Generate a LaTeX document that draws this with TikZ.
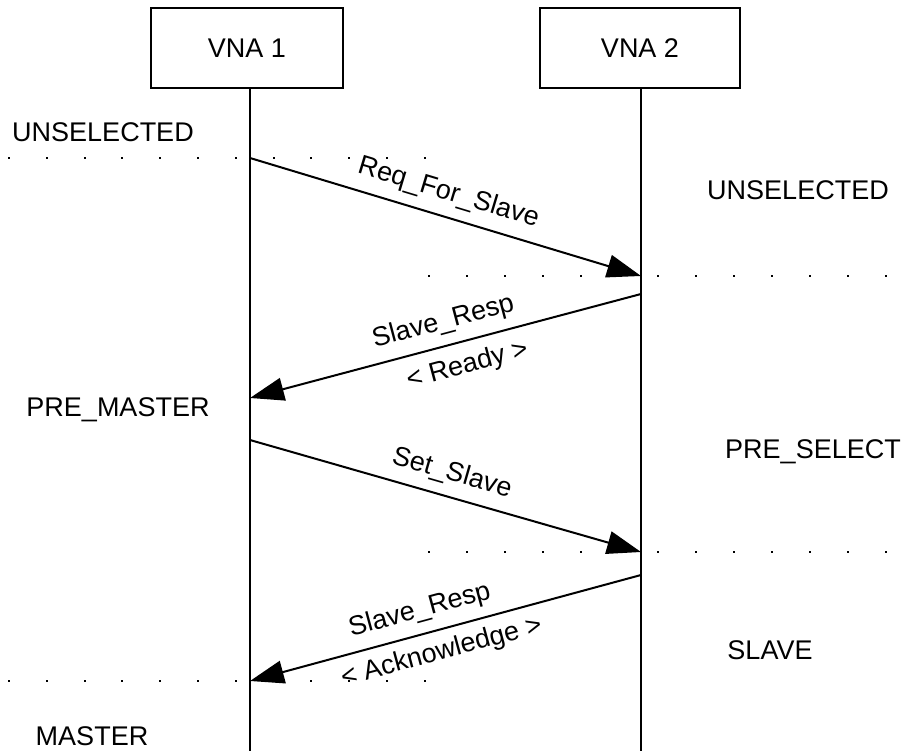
\documentclass[tikz,border=0pt]{standalone}
\usepackage{fontspec}
\setmainfont{Liberation Sans}
\usetikzlibrary{arrows.meta}
\begin{document}
\begin{tikzpicture}[x=1pt,y=-1pt, font=\fontsize{27}{32}\selectfont,
  lifeline/.style={line width=2pt},
  msg/.style={line width=2pt,-{Triangle[length=34pt,width=23pt]}},
  agent/.style={draw,line width=2pt,minimum height=80pt,inner sep=0pt},
  state/.style={inner sep=0pt},
  lbl/.style={sloped,inner sep=2pt},
  dot/.style={fill=black}]
\useasboundingbox (0,0) rectangle (907,751);
% agents
\node[agent,minimum width=192pt] (vna1) at (247,48.5) {VNA 1};
\node[agent,minimum width=200pt] (vna2) at (640,48.5) {VNA 2};
\coordinate (l1b) at (250,751);
\coordinate (l2b) at (641,751);
\draw[lifeline] (vna1.south -| l1b) -- (l1b);
\draw[lifeline] (vna2.south -| l2b) -- (l2b);
% dotted state separators
\foreach \i in {0,...,11} \fill[dot] ({8+\i*37.8},157) rectangle +(2,2);
\foreach \i in {0,...,12} \fill[dot] ({428+\i*38.1},275) rectangle +(2,2);
\foreach \i in {0,...,12} \fill[dot] ({428+\i*38.1},551) rectangle +(2,2);
\foreach \i in {0,...,11} \fill[dot] ({8+\i*37.8},680) rectangle +(2,2);
% message end points
\coordinate (m1s) at (250,158);
\coordinate (m1e) at (641,276);
\coordinate (m2s) at (641,294);
\coordinate (m2e) at (250,398);
\coordinate (m3s) at (250,440);
\coordinate (m3e) at (641,552);
\coordinate (m4s) at (641,575);
\coordinate (m4e) at (250,681);
% messages
\draw[msg] (m1s) -- node[lbl,above=8pt,pos=0.49]{Req\_For\_Slave} (m1e);
\draw[msg] (m2s) -- node[lbl,above=8pt,pos=0.49]{Slave\_Resp}
                    node[lbl,below=9pt,pos=0.46]{< Ready >} (m2e);
\draw[msg] (m3s) -- node[lbl,above=8pt,pos=0.5]{Set\_Slave} (m3e);
\draw[msg] (m4s) -- node[lbl,above=8pt,pos=0.55]{Slave\_Resp}
                    node[lbl,below=7pt,pos=0.525]{< Acknowledge >} (m4e);
% states
\node[state] (s1) at (103,132) {UNSELECTED};
\node[state] (s2) at (798,190) {UNSELECTED};
\node[state] (s3) at (118,410) {PRE\_MASTER};
\node[state] (s4) at (813,452) {PRE\_SELECT};
\node[state] (s5) at (770,650) {SLAVE};
\node[state] (s6) at (92,736) {MASTER};
\end{tikzpicture}
\end{document}
